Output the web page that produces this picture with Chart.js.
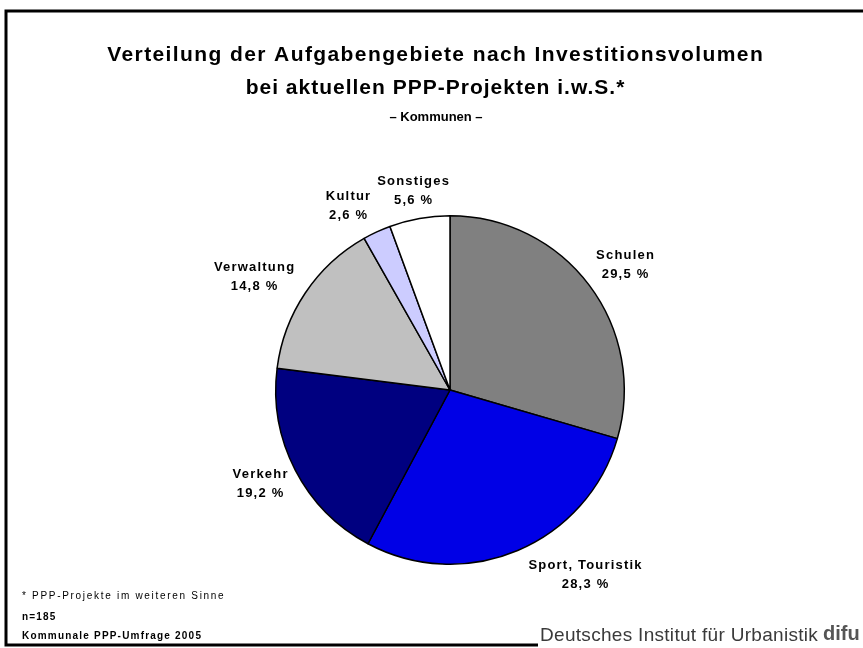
<!DOCTYPE html>
<html>
<head>
<meta charset="utf-8">
<script src="https://cdn.jsdelivr.net/npm/chart.js@4.4.1/dist/chart.umd.min.js"></script>
<style>
  html, body { margin: 0; padding: 0; background: #fff; }
  #wrap { width: 863px; height: 648px; position: relative; }
</style>
</head>
<body>
<div id="wrap"><canvas id="pie" width="863" height="648"></canvas></div>
<script>
// Data
const categories = ['Schulen', 'Sport, Touristik', 'Verkehr', 'Verwaltung', 'Kultur', 'Sonstiges'];
const shares = [29.5, 28.3, 19.2, 14.8, 2.6, 5.6];
const sliceColors = ['#808080', '#0000e6', '#000080', '#c0c0c0', '#ccccff', '#ffffff'];

const titleLines = [
    'Verteilung der Aufgabengebiete nach Investitionsvolumen',
    'bei aktuellen PPP-Projekten i.w.S.*'
];
const subTitle = '\u2013 Kommunen \u2013';
const footNotes = ['* PPP-Projekte im weiteren Sinne', 'n=185', 'Kommunale PPP-Umfrage 2005'];
const sourceText = 'Deutsches Institut f\u00fcr Urbanistik';

// label centres relative to the pie centre (Excel moved some of them)
const labelOffsets = [[175, -126], [135, 184], [-190, 93], [-196, -114], [-102, -185], [-37, -200]];

const fmt = v => v.toFixed(1).replace('.', ',') + ' %';

// text with letter spacing, centred or left aligned
function spaced(ctx, text, x, y, spacing, align) {
    ctx.letterSpacing = spacing + 'px';
    const w = ctx.measureText(text).width - spacing;
    const left = align === 'center' ? x - w / 2 : x;
    ctx.textAlign = 'left';
    ctx.fillText(text, left, y);
    ctx.letterSpacing = '0px';
}

// frame, headings and footer
const decorPlugin = {
    id: 'decor',
    beforeDraw(chart) {
        const ctx = chart.ctx;
        ctx.save();
        ctx.fillStyle = '#fff';
        ctx.fillRect(0, 0, chart.width, chart.height);

        // frame
        ctx.strokeStyle = '#000';
        ctx.lineWidth = 3;
        ctx.beginPath();
        ctx.moveTo(870, 11);
        ctx.lineTo(6, 11);
        ctx.lineTo(6, 645);
        ctx.lineTo(538, 645);
        ctx.stroke();

        ctx.fillStyle = '#000';
        ctx.textBaseline = 'middle';
        ctx.font = 'bold 21px "Liberation Sans", Arial, sans-serif';
        spaced(ctx, titleLines[0], 435, 55, 1.4, 'center');
        spaced(ctx, titleLines[1], 435, 88, 1.0, 'center');
        ctx.font = 'bold 13px "Liberation Sans", Arial, sans-serif';
        spaced(ctx, subTitle, 436, 117, 0, 'center');

        ctx.font = '10px "Liberation Sans", Arial, sans-serif';
        spaced(ctx, footNotes[0], 22, 596, 1.7, 'left');
        ctx.font = 'bold 10px "Liberation Sans", Arial, sans-serif';
        spaced(ctx, footNotes[1], 22, 617, 1.2, 'left');
        spaced(ctx, footNotes[2], 22, 636, 1.2, 'left');

        ctx.fillStyle = '#3a3a3a';
        ctx.font = '19px "Liberation Sans", Arial, sans-serif';
        spaced(ctx, sourceText, 540, 636, 0.3, 'left');
        ctx.fillStyle = '#555';
        ctx.font = 'bold 20px "Liberation Sans", Arial, sans-serif';
        spaced(ctx, 'difu', 823, 634, 0, 'left');
        ctx.restore();
    },
    afterDatasetsDraw(chart) {
        const ctx = chart.ctx;
        const arcs = chart.getDatasetMeta(0).data;
        ctx.save();
        ctx.fillStyle = '#000';
        ctx.textBaseline = 'middle';
        ctx.font = 'bold 13px "Liberation Sans", Arial, sans-serif';
        arcs.forEach((arc, i) => {
            const x = arc.x + labelOffsets[i][0];
            const y = arc.y + labelOffsets[i][1];
            spaced(ctx, categories[i], x, y - 9, 1.2, 'center');
            spaced(ctx, fmt(shares[i]), x, y + 10, 1.2, 'center');
        });
        ctx.restore();
    }
};

new Chart(document.getElementById('pie'), {
    type: 'pie',
    data: {
        labels: categories,
        datasets: [{
            data: shares,
            backgroundColor: sliceColors,
            borderColor: '#000',
            borderWidth: 1.5
        }]
    },
    options: {
        responsive: false,
        animation: false,
        layout: { padding: { left: 275, right: 238, top: 215, bottom: 83 } },
        plugins: {
            legend: { display: false },
            tooltip: { enabled: false },
            title: { display: false }
        }
    },
    plugins: [decorPlugin]
});
</script>
</body>
</html>
